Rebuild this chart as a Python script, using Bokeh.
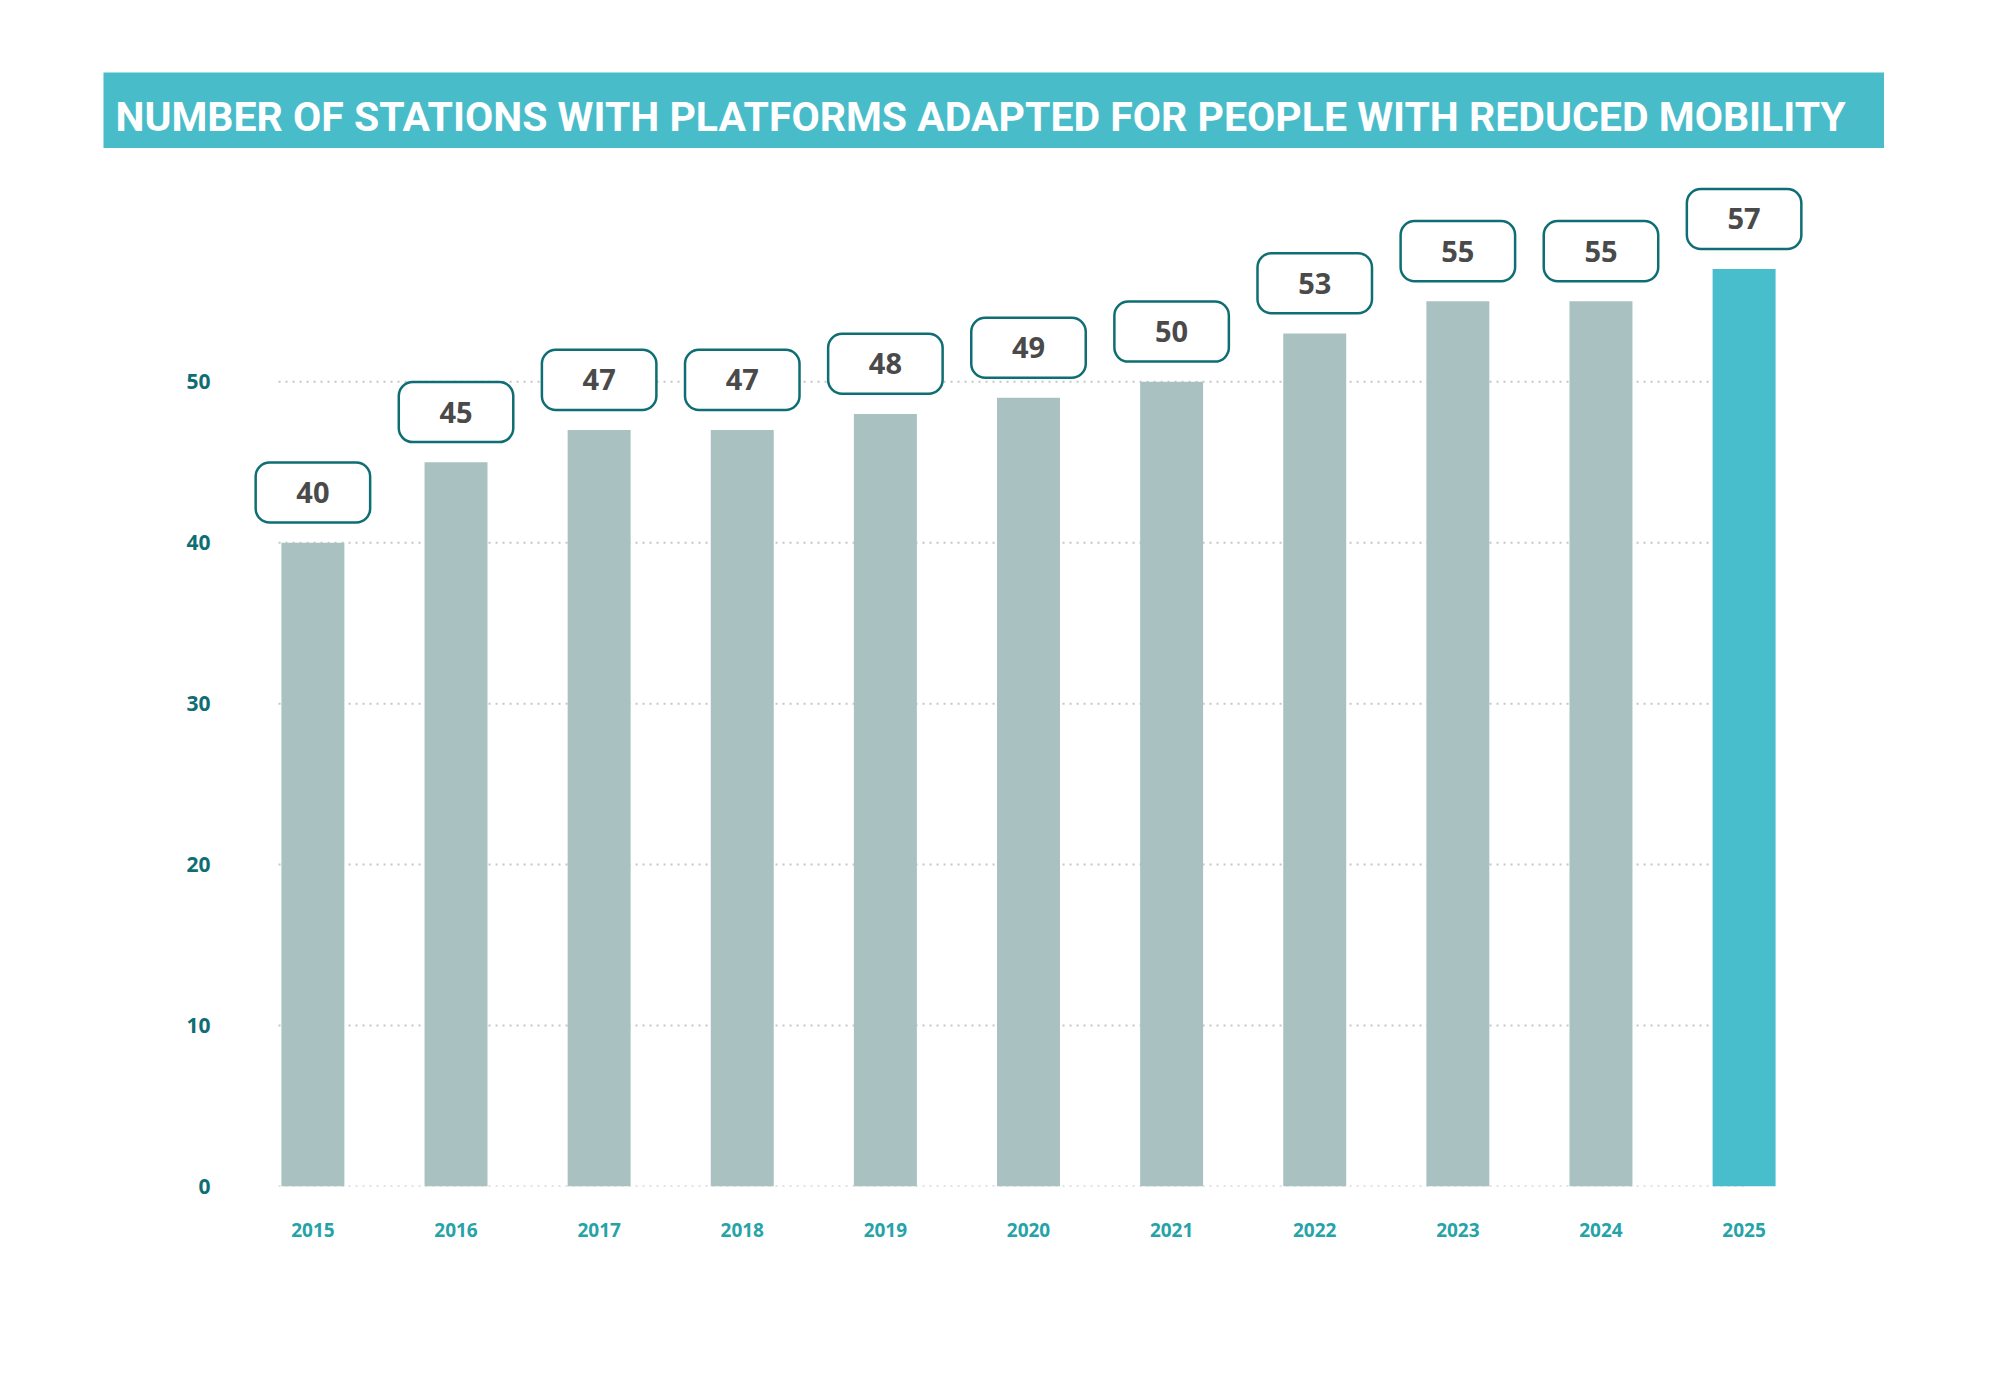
from bokeh.plotting import figure
from bokeh.layouts import column
from bokeh.models import Range1d, FixedTicker, ColumnDataSource
from bokeh.core.properties import value
from bokeh.embed import file_html
from bokeh.resources import INLINE

# ---- data ----
title_text = "NUMBER OF STATIONS WITH PLATFORMS ADAPTED FOR PEOPLE WITH REDUCED MOBILITY"
years = [2015, 2016, 2017, 2018, 2019, 2020, 2021, 2022, 2023, 2024, 2025]
stations = [40, 45, 47, 47, 48, 49, 50, 53, 55, 55, 57]
y_ticks = [0, 10, 20, 30, 40, 50]

BANNER = "#49BCCA"
BAR = "#A9C2C1"
HIGHLIGHT = "#48BDCB"
DARK_TEAL = "#0F6E73"
LIGHT_TEAL = "#26A3A8"
NUM_FONT = "Open Sans"

# ---- banner ----
banner = figure(width=1781, height=76, output_backend="svg", toolbar_location=None,
                x_range=Range1d(0, 1781), y_range=Range1d(0, 76),
                x_axis_location=None, y_axis_location=None,
                min_border=0, background_fill_color=BANNER, border_fill_color=BANNER,
                outline_line_color=None)
banner.grid.visible = False
banner.frame_align = False
banner.text(x=[12], y=[32], text=[title_text], text_color="white",
            text_font=value("Roboto"), text_font_style="bold",
            text_font_size="41px", text_baseline="middle", text_align="left")
banner.margin = (72, 0, 0, 103)

# ---- chart ----
gap = 1.25
box_h = 3.73
src = ColumnDataSource(dict(
    x=years,
    v=stations,
    color=[BAR] * (len(years) - 1) + [HIGHLIGHT],
    box_bottom=[s + gap for s in stations],
    box_top=[s + gap + box_h for s in stations],
    label_y=[s + gap + box_h / 2 for s in stations],
    label=[str(s) for s in stations],
))

p = figure(width=2000, height=1252, output_backend="svg", toolbar_location=None,
           x_range=Range1d(years[0] - 0.45, years[-1] + 0.45), y_range=Range1d(0, 63),
           min_border_left=248, min_border_right=192, min_border_top=24, min_border_bottom=214,
           outline_line_color=None, background_fill_color="white")
p.margin = (0, 0, 0, 0)
p.frame_align = False

p.xgrid.visible = False
p.ygrid.visible = False

# dotted horizontal guide lines, spanning from just left of the first bar to the last bar
grid_src = ColumnDataSource(dict(
    x0=[years[0] - 0.24] * len(y_ticks),
    x1=[years[-1]] * len(y_ticks),
    y=y_ticks,
))
p.segment(x0="x0", x1="x1", y0="y", y1="y", source=grid_src,
          line_color="#c6c6c6", line_dash="2 5", line_width=2)

p.yaxis.ticker = FixedTicker(ticks=y_ticks)
p.yaxis.axis_line_color = None
p.yaxis.major_tick_line_color = None
p.yaxis.minor_tick_line_color = None
p.yaxis.major_label_standoff = 32
p.yaxis.major_label_text_color = DARK_TEAL
p.yaxis.major_label_text_font = NUM_FONT
p.yaxis.major_label_text_font_style = "bold"
p.yaxis.major_label_text_font_size = "21px"

p.xaxis.ticker = FixedTicker(ticks=years)
p.xaxis.axis_line_color = None
p.xaxis.major_tick_line_color = None
p.xaxis.minor_tick_line_color = None
p.xaxis.major_label_standoff = 30
p.xaxis.major_label_text_color = LIGHT_TEAL
p.xaxis.major_label_text_font = NUM_FONT
p.xaxis.major_label_text_font_style = "bold"
p.xaxis.major_label_text_font_size = "19px"

p.vbar(x="x", top="v", bottom=0, width=0.44, source=src, fill_color="color", line_color=None)

p.vbar(x="x", top="box_top", bottom="box_bottom", width=0.80, source=src,
       fill_color="white", line_color=DARK_TEAL, line_width=2.5, border_radius=14)
p.text(x="x", y="label_y", text="label", source=src, text_align="center",
       text_baseline="middle", text_color="#4A4A4A", text_font=value(NUM_FONT),
       text_font_style="bold", text_font_size="29px")

layout = column(banner, p, spacing=0)
open("out.html", "w").write(file_html(layout, INLINE))
